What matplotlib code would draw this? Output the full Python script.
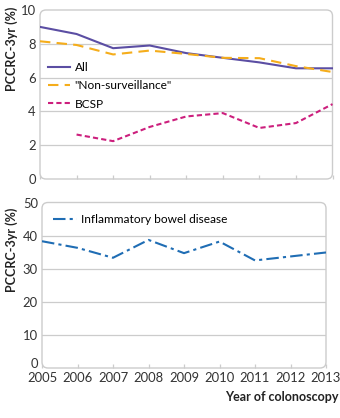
import matplotlib
matplotlib.use("Agg")
import matplotlib.pyplot as plt
from matplotlib.patches import FancyBboxPatch

plt.rcParams['font.family'] = ['Lato', 'DejaVu Sans']

years = [2005, 2006, 2007, 2008, 2009, 2010, 2011, 2012, 2013]
all_pccrc = [9.0, 8.58, 7.74, 7.9, 7.45, 7.17, 6.9, 6.55, 6.55]
non_surv = [8.15, 7.93, 7.37, 7.6, 7.4, 7.17, 7.15, 6.68, 6.33]
bcsp_years = [2006, 2007, 2008, 2009, 2010, 2011, 2012, 2013]
bcsp = [2.63, 2.24, 3.08, 3.7, 3.9, 3.02, 3.31, 4.43]
ibd = [38.3, 36.3, 33.3, 38.7, 34.7, 38.2, 32.5, 33.7, 34.9]

W, H = 340, 418
fig = plt.figure(figsize=(W / 100, H / 100), dpi=100)

grey = '#cccccc'
fs = 8.6
tfs = 9.4


def px_axes(l, t, r, b):
    return fig.add_axes([l / W, 1 - b / H, (r - l) / W, (b - t) / H])


def style(ax, wpx, hpx, yticks, grid_vals):
    for s in ax.spines.values():
        s.set_visible(False)
    box = FancyBboxPatch((0, 0), 1, 1, transform=ax.transAxes,
                         boxstyle="round,pad=0,rounding_size=%f" % (6 / wpx),
                         mutation_aspect=wpx / hpx, fill=False,
                         edgecolor=grey, lw=1.0, clip_on=False, zorder=0)
    ax.add_patch(box)
    for g in grid_vals:
        ax.axhline(g, color=grey, lw=0.9, zorder=0.5)
    ax.set_xlim(2005, 2013)
    ax.set_xticks(years)
    ax.tick_params(axis='x', direction='in', length=3, color=grey, width=0.9,
                   labelsize=tfs, pad=3, labelcolor='#333333')
    ax.set_yticks(yticks)
    ax.tick_params(axis='y', length=0, labelsize=tfs, pad=3, labelcolor='#333333')
    ax.patch.set_visible(False)


# top panel
ax1 = px_axes(40, 10, 332.5, 179)
style(ax1, 292.5, 169, [0, 2, 4, 6, 8, 10], [2, 4, 6, 8])
ax1.set_ylim(0, 10)
ax1.tick_params(axis='x', labelbottom=False)
ax1.plot(years, all_pccrc, color='#5b4ea3', lw=1.5, label='All')
ax1.plot(years, non_surv, color='#f5ad1b', lw=1.5, dashes=(5, 3),
         label='"Non-surveillance"')
ax1.plot(bcsp_years, bcsp, color='#cc1f7d', lw=1.5, dashes=(2.5, 1.5),
         label='BCSP')
ax1.legend(loc='upper left', bbox_to_anchor=(0.0, 0.74), frameon=False,
           fontsize=fs, handlelength=1.85, handletextpad=0.35,
           labelspacing=0.6, borderaxespad=0.3)

# bottom panel
ax2 = px_axes(42, 202.5, 326, 368)
style(ax2, 284, 165.5, [0, 10, 20, 30, 40, 50], [10, 20, 30, 40])
ax2.set_ylim(0, 50)
ax2.plot(years, ibd, color='#1f6db4', lw=1.5, dashes=(6, 2, 1.5, 2),
         label='Inflammatory bowel disease')
ax2.legend(loc='upper left', bbox_to_anchor=(0.0, 1.0), frameon=False,
           fontsize=fs, handlelength=2.0, handletextpad=0.3,
           borderaxespad=0.65, borderpad=0.3)
# the "0" sits just above the baseline, clear of the year labels
ax2.yaxis.get_major_ticks()[0].label1.set_verticalalignment('baseline')

fig.text(12 / W, 1 - 7 / H, 'PCCRC-3yr (%)', rotation=90, ha='center',
         va='top', fontsize=9, fontweight='bold', color='#222222')
fig.text(12 / W, 1 - 208 / H, 'PCCRC-3yr (%)', rotation=90, ha='center',
         va='top', fontsize=9, fontweight='bold', color='#222222')
fig.text(339 / W, 1 - 397 / H, 'Year of colonoscopy', ha='right',
         va='center', fontsize=9, fontweight='bold', color='#222222')

fig.savefig('out.png', dpi=100)
